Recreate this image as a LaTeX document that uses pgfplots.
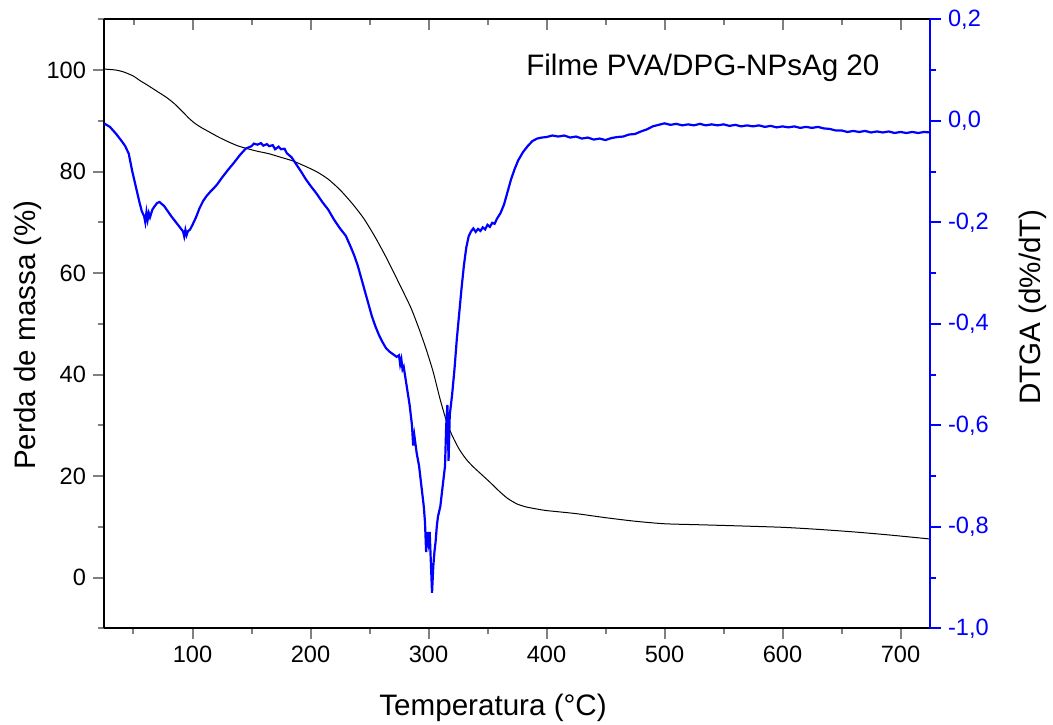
\documentclass[border=0pt]{standalone}
\usepackage{fontspec}
\setmainfont{Liberation Sans}
\usepackage{pgfplots}
\pgfplotsset{compat=1.18}
\definecolor{dtgblue}{RGB}{0,0,255}
\begin{document}
\begin{tikzpicture}
\useasboundingbox (-52pt,-47.85pt) rectangle (474.5pt,314.15pt);
\pgfplotsset{
  common/.style={
    scale only axis, width=413pt, height=304.5pt,
    at={(0pt,0pt)}, anchor=south west,
    xmin=25, xmax=725,
    /pgf/number format/assume math mode=true,
    tick label style={font=\fontsize{11.8}{13}\selectfont},
    label style={font=\fontsize{14.8}{17}\selectfont},
    major tick length=5.5pt, minor tick length=3pt,
    axis line style={line width=1pt},
    tick style={line width=1pt},
    clip=false,
  }
}
% left axis: TGA
\begin{axis}[common,
  ymin=-10, ymax=110,
  axis x line*=bottom, axis y line*=left,
  tick align=outside,
  xtick={100,200,300,400,500,600,700},
  minor xtick={50,150,250,350,450,550,650},
  ytick={0,20,40,60,80,100},
  minor ytick={-10,10,30,50,70,90,110},
  xlabel={Temperatura (°C)},
  ylabel={Perda de massa (\%)},
  xlabel style={at={(axis description cs:0.471,-0.131)}, anchor=center},
  ylabel style={at={(axis description cs:-0.092,0.4816)}, anchor=center},
]
\addplot[black, line width=0.5pt, smooth, tension=0.4] coordinates {
(25,100.2) (35,100.0) (42,99.6) (50,98.8) (55,98.0) (62,97.0) (70,95.8) (78,94.6)
(85,93.3) (92,91.7) (97,90.5) (102,89.5) (108,88.6) (115,87.7) (122,86.8) (130,85.9) (138,85.1)
(145,84.6) (155,84.0) (165,83.5) (175,82.8) (185,82.1) (195,81.1) (205,80.0) (215,78.5)
(225,76.4) (235,73.8) (245,70.8) (255,67.0) (265,62.7) (275,58.0) (285,53.2) (292,49.0)
(298,45.0) (304,40.5) (310,35.0) (315,31.0) (320,28.0) (326,25.3) (332,23.3) (338,21.8)
(345,20.3) (352,18.8) (360,17.0) (367,15.6) (375,14.5) (383,13.9) (392,13.5) (400,13.2)
(425,12.6) (450,11.8) (475,11.1) (500,10.6) (530,10.4) (560,10.2) (600,9.9) (630,9.5)
(660,9.0) (690,8.4) (725,7.6)
};
\node[font=\fontsize{14.8}{17}\selectfont] at (axis description cs:0.725,0.920) {Filme PVA/DPG-NPsAg 20};
\end{axis}
% top ticks (inside)
\begin{axis}[common,
  ymin=-10, ymax=110,
  axis x line*=top, axis y line=none,
  tick align=inside,
  xtick={100,200,300,400,500,600,700},
  minor xtick={50,150,250,350,450,550,650},
  xticklabels={},
]
\end{axis}
% right axis: DTGA
\begin{axis}[common,
  ymin=-1.0, ymax=0.2,
  axis y line*=right, axis x line=none,
  tick align=outside,
  ytick={-1,-0.8,-0.6,-0.4,-0.2,0,0.2},
  minor ytick={-0.9,-0.7,-0.5,-0.3,-0.1,0.1},
  yticklabel style={text=dtgblue, /pgf/number format/.cd, use comma, fixed, fixed zerofill, precision=1},
  y axis line style={draw=dtgblue},
  ytick style={draw=dtgblue},
  ylabel={DTGA (d\%/dT)},
  ylabel style={at={(axis description cs:1.1247,0.5276)}, anchor=center, rotate=0},
]
\addplot[dtgblue, line width=1.1pt] coordinates {
(25,-0.005) (30,-0.012) (35,-0.025) (40,-0.040) (43,-0.050) (46,-0.065) (49,-0.100)
(52,-0.130) (55,-0.160) (57,-0.178) (59,-0.188) (60,-0.200) (61,-0.180) (62,-0.195)
(63,-0.182) (64,-0.190) (66,-0.175) (68,-0.168) (70,-0.162) (72,-0.160) (74,-0.164)
(76,-0.168) (79,-0.178) (82,-0.188) (85,-0.197) (88,-0.206) (90,-0.212) (92,-0.218)
(93,-0.228) (94,-0.215) (95,-0.225) (96,-0.218) (98,-0.214) (100,-0.205) (103,-0.190)
(106,-0.172) (109,-0.158) (112,-0.148) (115,-0.140) (118,-0.133) (121,-0.125) (125,-0.112)
(130,-0.097) (135,-0.083) (140,-0.068) (145,-0.055) (150,-0.050) (152,-0.045) (155,-0.047) (158,-0.044) (160,-0.049)
(163,-0.046) (165,-0.050) (168,-0.048) (170,-0.056) (173,-0.051) (175,-0.056) (178,-0.055) (180,-0.064) (184,-0.072) (188,-0.086) (192,-0.100)
(196,-0.115) (200,-0.128) (205,-0.143) (210,-0.160) (215,-0.175) (220,-0.195) (225,-0.212)
(230,-0.227) (234,-0.248) (237,-0.265) (240,-0.285) (243,-0.310) (246,-0.335) (249,-0.360)
(252,-0.385) (255,-0.405) (258,-0.422) (261,-0.436) (264,-0.448) (267,-0.455) (270,-0.460)
(273,-0.465) (275,-0.462) (276,-0.480) (277,-0.470) (278,-0.490) (279,-0.485) (280,-0.500)
(282,-0.530) (284,-0.560) (286,-0.600) (287,-0.640) (288,-0.620) (290,-0.655) (292,-0.680)
(294,-0.720) (296,-0.760) (297,-0.790) (298,-0.850) (299,-0.810) (300,-0.830) (301,-0.810)
(302,-0.870) (303,-0.930) (304,-0.880) (305,-0.850) (306,-0.830) (307,-0.800) (308,-0.780)
(310,-0.760) (312,-0.720) (314,-0.680) (315,-0.600) (316,-0.560) (317,-0.670) (318,-0.580)
(320,-0.540) (322,-0.490) (324,-0.430) (326,-0.380) (328,-0.330) (330,-0.285) (332,-0.250)
(334,-0.228) (336,-0.218) (338,-0.212) (340,-0.219) (342,-0.213) (344,-0.217) (346,-0.210) (348,-0.214) (350,-0.205) (352,-0.209) (354,-0.201)
(356,-0.203) (358,-0.193) (361,-0.182) (364,-0.165) (367,-0.140) (370,-0.115) (373,-0.095) (376,-0.078)
(380,-0.062) (384,-0.050) (388,-0.040) (392,-0.035) (396,-0.033) (400,-0.032) (405,-0.029)
(410,-0.031) (415,-0.029) (420,-0.033) (425,-0.031) (430,-0.035) (435,-0.033) (440,-0.037) (445,-0.035) (450,-0.038) (455,-0.034) (460,-0.032) (465,-0.031) (470,-0.027)
(475,-0.026) (480,-0.021) (485,-0.017) (490,-0.011) (495,-0.008) (500,-0.005) (505,-0.008) (510,-0.006) (515,-0.009) (520,-0.007) (525,-0.009) (530,-0.006) (535,-0.009) (540,-0.007)
(545,-0.009) (550,-0.007) (555,-0.010) (560,-0.008) (565,-0.011) (570,-0.009) (575,-0.011) (580,-0.009) (585,-0.012) (590,-0.010) (595,-0.013) (600,-0.011) (605,-0.013) (610,-0.011)
(615,-0.014) (620,-0.012) (625,-0.014) (630,-0.012) (635,-0.015) (640,-0.016) (645,-0.019) (650,-0.019) (655,-0.022) (660,-0.020) (665,-0.022) (670,-0.020) (675,-0.023) (680,-0.021)
(685,-0.023) (690,-0.021) (695,-0.024) (700,-0.022) (705,-0.024) (710,-0.022) (715,-0.024) (720,-0.022) (725,-0.023)
};
\end{axis}
\end{tikzpicture}
\end{document}
